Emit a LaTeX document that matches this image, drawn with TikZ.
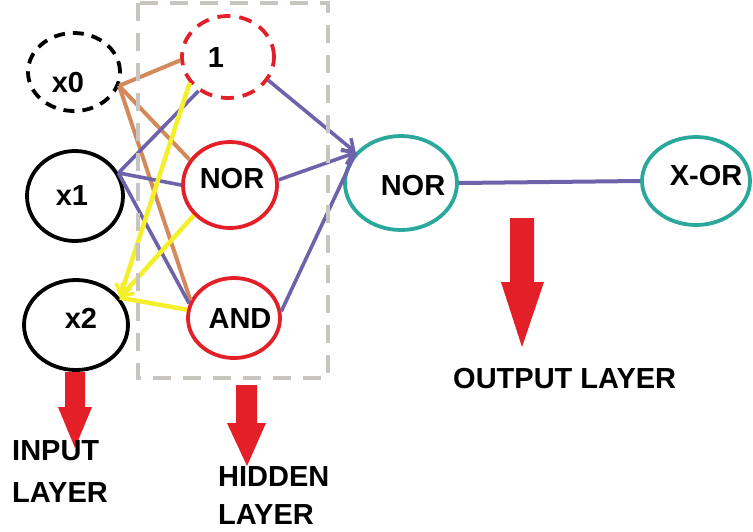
\documentclass[tikz,border=0pt]{standalone}
\usepackage{fontspec}
\setmainfont{Liberation Sans}
\usetikzlibrary{arrows.meta,shapes.geometric}
\definecolor{myred}{HTML}{E32028}
\definecolor{mypur}{HTML}{6E62AA}
\definecolor{myorg}{HTML}{D4895A}
\definecolor{myyel}{HTML}{F5EE2A}
\definecolor{myteal}{HTML}{2BA89C}
\definecolor{mygray}{HTML}{C8C5C0}
\begin{document}
\begin{tikzpicture}[x=1pt,y=-1pt,
  el/.style={ellipse, draw, line width=3.8pt, inner sep=0pt},
  blackdash/.style={dash pattern=on 11pt off 8pt},
  reddash/.style={dash pattern=on 13pt off 9pt},
  txt/.style={font=\fontsize{29}{34}\selectfont\bfseries, inner sep=0pt, anchor=base},
  lbl/.style={font=\fontsize{29}{34}\selectfont\bfseries, inner sep=0pt, anchor=base west},
  pur/.style={draw=mypur, line width=3.6pt},
  org/.style={draw=myorg, line width=4pt},
  yel/.style={draw=myyel, line width=4.5pt},
  barb/.style={-{Straight Barb[length=10pt,width=16pt,line width=3.5pt]}},
  graybox/.style={draw=mygray, line width=4.5pt, dash pattern=on 18pt off 12pt},
  bigarrow/.style={fill=myred}
]
\useasboundingbox (0,0) rectangle (753,531);

% nodes
\node[el, black, blackdash, minimum width=92pt, minimum height=78pt] (x0) at (74,72) {};
\node[el, black, minimum width=96pt, minimum height=90pt] (x1) at (75,196) {};
\node[el, black, minimum width=104pt, minimum height=90pt] (x2) at (76,325) {};
\node[el, myred, reddash, minimum width=92pt, minimum height=82pt] (one) at (228,57) {};
\node[el, myred, minimum width=94pt, minimum height=86pt] (hnor) at (230,185) {};
\node[el, myred, minimum width=92pt, minimum height=80pt] (hand) at (234,318) {};
\node[el, myteal, minimum width=112pt, minimum height=94pt] (onor) at (401,183) {};
\node[el, myteal, minimum width=108pt, minimum height=88pt] (xor) at (696,181) {};

% texts
\node[txt] (tx0) at (68,92) {x0};
\node[txt] (tx1) at (72,205) {x1};
\node[txt] (tx2) at (81,328) {x2};
\node[txt] (tone) at (216,67) {1};
\node[txt] (thnor) at (232,188) {NOR};
\node[txt] (thand) at (240,328) {AND};
\node[txt] (tonor) at (413,195) {NOR};
\node[txt] (txor) at (706,185) {X-OR};

% orange connectors from x0
\draw[org] (x0.-17) -- (one.184);
\draw[org] (x0.-17) -- (hnor.148);
\draw[org] (x0.-17) -- (hand.158);

% purple connectors from x1
\draw[pur] (x1.28) -- (one.229);
\draw[pur] (x1.28) -- (hnor.180);
\draw[pur] (x1.28) -- (hand.162);

% hidden to output
\draw[pur, barb] (one.-30) -- (onor.146);
\draw[pur, barb] (hnor.6) -- (onor.146);
\draw[pur] (hand.8) -- (onor.146);

% output to X-OR
\draw[pur, line width=4pt] (onor.east) -- (xor.west);

% yellow feedback
\draw[yel, barb] (one.214) -- (x2.32);
\draw[yel, barb] (hnor.220) -- (x2.32);
\draw[yel] (hand.170) -- (x2.32);

% hidden layer box
\draw[graybox] (138,3) rectangle (328,378);

% red block arrows
\fill[bigarrow] (65,372) -- (85,372) -- (85,407) -- (92,407) -- (75,448) -- (58,407) -- (65,407) -- cycle;
\fill[bigarrow] (236,385) -- (257,385) -- (257,423) -- (266,423) -- (247,466) -- (227,423) -- (236,423) -- cycle;
\fill[bigarrow] (510,218) -- (534,218) -- (534,282) -- (544,282) -- (522,347) -- (501,282) -- (510,282) -- cycle;

% layer labels
\node[lbl] (in1) at (12,460) {INPUT};
\node[lbl] (in2) at (12,502) {LAYER};
\node[lbl] (hid1) at (218,486) {HIDDEN};
\node[lbl] (hid2) at (218,524) {LAYER};
\node[lbl] (out) at (453,388) {OUTPUT LAYER};
\end{tikzpicture}
\end{document}
